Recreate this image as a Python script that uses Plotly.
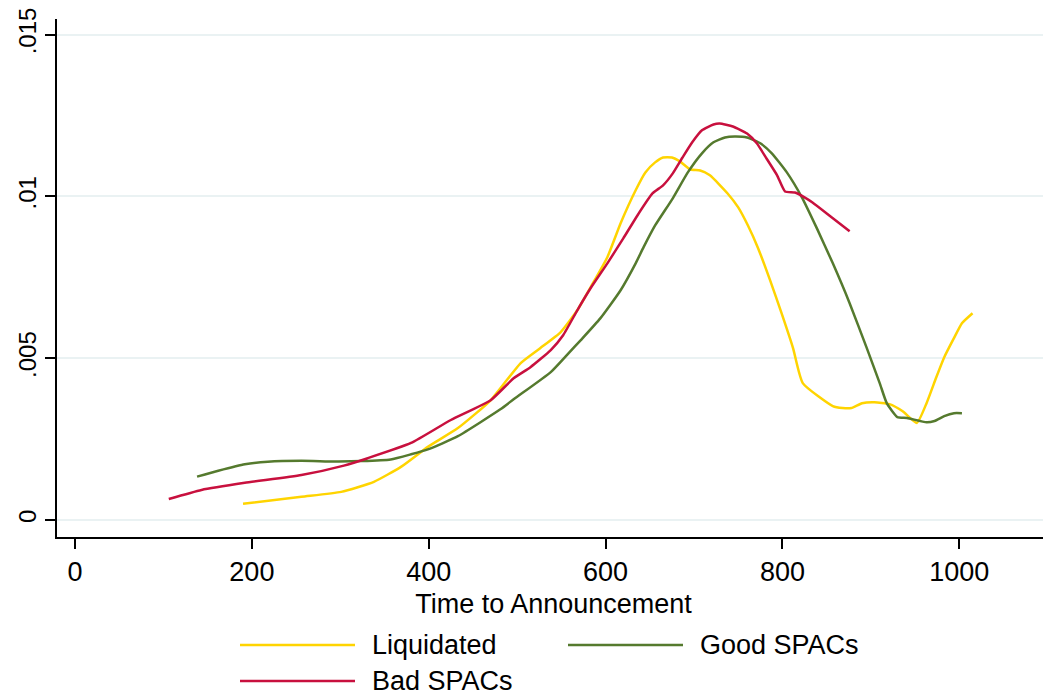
import plotly.graph_objects as go

# Liquidated
liq_x = [190, 256, 301, 338, 369, 399, 433, 470, 504, 526, 549, 568, 583, 602, 617, 634, 645, 656, 665, 675,
         684, 696, 707, 718, 738, 750, 761, 772, 786, 799, 812, 823, 857, 868, 878, 890, 904, 921, 936, 952,
         963, 974, 983, 994, 1003, 1015]
liq_y = [0.000503, 0.00072, 0.00087, 0.00118, 0.00165, 0.00226, 0.00284, 0.0037, 0.00485, 0.00531, 0.0058,
         0.00648, 0.00719, 0.00812, 0.00917, 0.01019, 0.01074, 0.01105, 0.0112, 0.0112, 0.01108, 0.01083,
         0.0108, 0.01065, 0.01009, 0.00966, 0.0091, 0.00843, 0.00741, 0.00639, 0.00531, 0.00423, 0.00352,
         0.00346, 0.00346, 0.00361, 0.00364, 0.00358, 0.00336, 0.003, 0.00361, 0.00441, 0.00503, 0.00562,
         0.00608, 0.00639]

# Good SPACs
good_x = [138, 162, 192, 218, 256, 293, 324, 357, 380, 399, 433, 481, 496, 538, 558, 572, 594, 617, 634, 643,
          656, 676, 693, 709, 722, 735, 746, 760, 775, 788, 805, 822, 839, 857, 876, 895, 910, 918, 930, 941,
          963, 972, 983, 994, 1003]
good_y = [0.00134, 0.00152, 0.00172, 0.0018, 0.00183, 0.00181, 0.00182, 0.00187, 0.00203, 0.00218, 0.00259,
          0.00342, 0.00373, 0.00457, 0.00515, 0.00556, 0.00623, 0.0071, 0.00793, 0.00843, 0.0091, 0.00994,
          0.01074, 0.01133, 0.01167, 0.01182, 0.01185, 0.01182, 0.01164, 0.01133, 0.01074, 0.00997, 0.00901,
          0.00793, 0.0067, 0.00534, 0.00423, 0.00361, 0.00318, 0.00315, 0.00302, 0.00306, 0.00321, 0.0033,
          0.0033]

# Bad SPACs
bad_x = [106, 143, 192, 256, 304, 331, 380, 425, 470, 496, 515, 538, 552, 568, 583, 602, 620, 636, 653, 665,
         676, 687, 698, 709, 722, 729, 744, 760, 771, 782, 794, 803, 814, 825, 834, 853, 876]
bad_y = [0.00065, 0.00093, 0.00115, 0.00139, 0.00168, 0.00191, 0.00238, 0.00309, 0.0037, 0.00438, 0.00472,
         0.00525, 0.00571, 0.00648, 0.00716, 0.00793, 0.0087, 0.00941, 0.01009, 0.01034, 0.01071, 0.0112,
         0.01167, 0.01204, 0.01222, 0.01225, 0.01216, 0.01194, 0.01164, 0.01117, 0.01065, 0.01015, 0.01012,
         0.00997, 0.00981, 0.00941, 0.00892]

x_ticks = [0, 200, 400, 600, 800, 1000]
y_ticks = [0, 0.005, 0.01, 0.015]
y_tick_labels = ["0", ".005", ".01", ".015"]

series = [
    ("Liquidated", liq_x, liq_y, "#FFD400"),
    ("Good SPACs", good_x, good_y, "#557A2E"),
    ("Bad SPACs", bad_x, bad_y, "#C8103E"),
]

FONT = "Liberation Sans, Arial, sans-serif"
fig = go.Figure()
for name, xs, ys, col in series:
    fig.add_trace(go.Scatter(x=xs, y=ys, mode="lines", name=name,
                             line=dict(color=col, width=2.5, shape="spline", smoothing=0.5),
                             showlegend=False))

OFF = 8  # default page body margin
W, H = 1051 - OFF, 695 - OFF
L, R, T, B = 57 - OFF, 1, 19 - OFF, 158
pw, ph = W - L - R, H - T - B

def px_x(p):
    return (p - OFF - L) / pw

def px_y(p):
    return (H - B - (p - OFF)) / ph

# manual Stata-like legend
legend_pos = [(240, 645), (568, 645), (240, 681)]
for (name, xs, ys, col), (lx, ly) in zip(series, legend_pos):
    fig.add_shape(type="line", xref="paper", yref="paper",
                  x0=px_x(lx), x1=px_x(lx + 115), y0=px_y(ly), y1=px_y(ly),
                  line=dict(color=col, width=2.5))
    fig.add_annotation(xref="paper", yref="paper", x=px_x(lx + 130), y=px_y(ly),
                       text=name, showarrow=False, xanchor="left", yanchor="middle",
                       font=dict(family=FONT, size=27, color="black"))

fig.update_layout(
    width=W, height=H,
    margin=dict(l=L, r=R, t=T, b=B, autoexpand=False),
    paper_bgcolor="white", plot_bgcolor="white",
    font=dict(family=FONT, size=27, color="black"),
    showlegend=False,
    xaxis=dict(range=[-20.4, 1102.6], tickvals=x_ticks, ticks="outside", ticklen=10,
               tickcolor="black", tickwidth=1.5, showline=True, linecolor="black", linewidth=1.5,
               showgrid=False, zeroline=False, automargin=False, ticklabeloverflow="allow",
               title=dict(text="Time to Announcement", font=dict(size=27), standoff=8)),
    yaxis=dict(range=[-0.000525, 0.01548], tickvals=y_ticks, ticktext=y_tick_labels,
               tickangle=-90, ticks="outside", ticklen=10, tickcolor="black", tickwidth=1.5,
               tickfont=dict(size=24),
               showline=True, linecolor="black", linewidth=1.5, automargin=False,
               ticklabeloverflow="allow",
               showgrid=True, gridcolor="#EAF2F3", gridwidth=2, zeroline=False),
)

fig.write_html("out.html")
